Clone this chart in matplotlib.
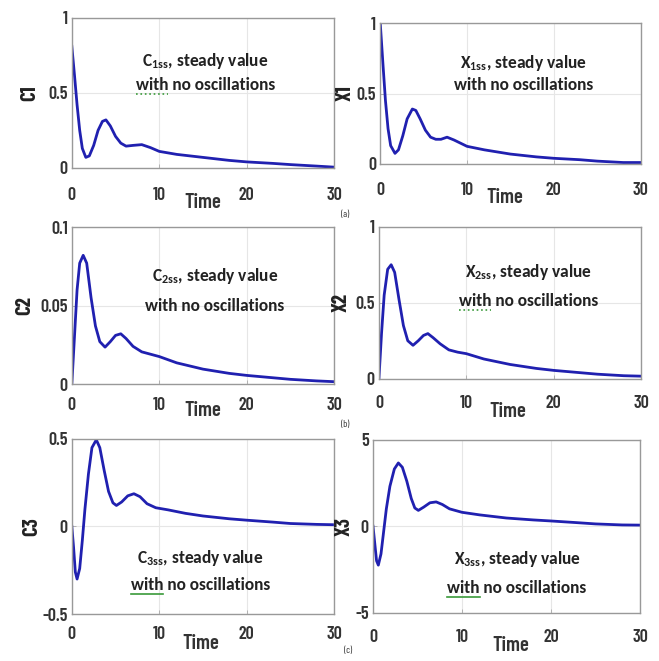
import matplotlib
matplotlib.use("Agg")
import matplotlib.pyplot as plt

NARROW = ['Barlow Condensed', 'Archivo Narrow', 'Liberation Sans', 'DejaVu Sans']
NOTE = ['Carlito', 'Lato', 'DejaVu Sans']
plt.rcParams['font.family'] = NARROW
plt.rcParams['mathtext.fontset'] = 'custom'
plt.rcParams['mathtext.rm'] = 'Carlito:bold'
plt.rcParams['mathtext.bf'] = 'Carlito:bold'

# values
t_c1 = [0, 0.3, 0.6, 0.9, 1.2, 1.6, 2.0, 2.5, 3.0, 3.5, 3.9, 4.4, 5.0, 5.6, 6.2,
        7.0, 8.0, 9.0, 10, 12, 15, 18, 20, 23, 25, 28, 30]
c1 = [0.81, 0.62, 0.42, 0.25, 0.13, 0.07, 0.08, 0.15, 0.25, 0.31, 0.32, 0.28, 0.21,
      0.165, 0.145, 0.15, 0.155, 0.135, 0.11, 0.09, 0.07, 0.05, 0.04, 0.03, 0.022,
      0.012, 0.005]

t_x1 = [0, 0.3, 0.6, 0.9, 1.2, 1.7, 2.1, 2.6, 3.1, 3.7, 4.1, 4.6, 5.2, 5.8, 6.4,
        7.0, 7.7, 8.5, 10, 12, 15, 18, 20, 23, 25, 28, 30]
x1 = [1.0, 0.72, 0.45, 0.25, 0.13, 0.075, 0.10, 0.2, 0.32, 0.39, 0.38, 0.32, 0.24,
      0.19, 0.175, 0.175, 0.19, 0.17, 0.125, 0.10, 0.07, 0.05, 0.04, 0.03, 0.02,
      0.01, 0.01]

t_c2 = [0, 0.3, 0.6, 0.9, 1.3, 1.7, 2.2, 2.7, 3.2, 3.8, 4.4, 5.0, 5.6, 6.2, 7.0,
        8.0, 9.0, 10, 12, 15, 18, 20, 23, 25, 28, 30]
c2 = [0.0, 0.03, 0.06, 0.077, 0.082, 0.077, 0.055, 0.037, 0.027, 0.0235, 0.027,
      0.031, 0.032, 0.029, 0.024, 0.0205, 0.019, 0.0175, 0.0135, 0.0095, 0.0068,
      0.0055, 0.004, 0.003, 0.002, 0.0015]

t_x2 = [0, 0.3, 0.6, 1.0, 1.4, 1.8, 2.3, 2.8, 3.3, 3.9, 4.5, 5.1, 5.6, 6.2, 7.0,
        8.0, 9.0, 10, 12, 15, 18, 20, 23, 25, 28, 30]
x2 = [0.0, 0.3, 0.55, 0.72, 0.75, 0.70, 0.52, 0.35, 0.25, 0.22, 0.25, 0.285, 0.297,
      0.27, 0.23, 0.19, 0.175, 0.165, 0.13, 0.094, 0.068, 0.055, 0.04, 0.03, 0.02,
      0.017]

t_c3 = [0, 0.2, 0.4, 0.6, 0.9, 1.2, 1.5, 1.9, 2.3, 2.8, 3.2, 3.7, 4.2, 4.7, 5.1,
        5.7, 6.4, 7.1, 7.8, 8.6, 9.6, 11, 13, 15, 18, 20, 23, 25, 28, 30]
c3 = [0.0, -0.12, -0.26, -0.30, -0.24, -0.08, 0.10, 0.30, 0.45, 0.495, 0.45, 0.32,
      0.20, 0.135, 0.12, 0.14, 0.175, 0.187, 0.17, 0.13, 0.107, 0.095, 0.075, 0.06,
      0.044, 0.036, 0.025, 0.017, 0.012, 0.01]

t_x3 = [0, 0.2, 0.4, 0.6, 0.9, 1.2, 1.5, 1.9, 2.4, 2.85, 3.3, 3.8, 4.3, 4.7, 5.1,
        5.7, 6.4, 7.1, 7.8, 8.6, 10, 12, 15, 18, 20, 23, 25, 28, 30]
x3 = [0.0, -1.0, -2.0, -2.25, -1.6, -0.3, 1.0, 2.3, 3.3, 3.65, 3.4, 2.6, 1.6, 1.05,
      0.91, 1.1, 1.35, 1.4, 1.25, 1.0, 0.8, 0.65, 0.47, 0.36, 0.3, 0.2, 0.13, 0.07,
      0.06]

x_ticks = [0, 10, 20, 30]
y_ticks = {
    'C1': ([0, 0.5, 1], ['0', '0.5', '1']),
    'X1': ([0, 0.5, 1], ['0', '0.5', '1']),
    'C2': ([0, 0.05, 0.1], ['0', '0.05', '0.1']),
    'X2': ([0, 0.5, 1], ['0', '0.5', '1']),
    'C3': ([-0.5, 0, 0.5], ['-0.5', '0', '0.5']),
    'X3': ([-5, 0, 5], ['-5', '0', '5']),
}
note_top = {
    'C1': r'$\mathbf{C_{1ss}}$, steady value',
    'X1': r'$\mathbf{X_{1ss}}$, steady value',
    'C2': r'$\mathbf{C_{2ss}}$, steady value',
    'X2': r'$\mathbf{X_{2ss}}$, steady value',
    'C3': r'$\mathbf{C_{3ss}}$, steady value',
    'X3': r'$\mathbf{X_{3ss}}$, steady value',
}
note_bottom = 'with no oscillations'

# name, t, y, axes rect, tick pad, time label pos, ylabel x, note (x, y1, y2), underline style
panels = [
    ('C1', t_c1, c1, [0.109, 0.746, 0.398, 0.227], 14, (0.50, -0.233), -0.16,
     (0.51, 0.71, 0.55), ':'),
    ('X1', t_x1, x1, [0.577, 0.752, 0.395, 0.213], 13, (0.48, -0.24), -0.135,
     (0.55, 0.72, 0.56), None),
    ('C2', t_c2, c2, [0.109, 0.419, 0.398, 0.2375], 9, (0.50, -0.166), -0.18,
     (0.545, 0.69, 0.50), None),
    ('X2', t_x2, x2, [0.575, 0.427, 0.398, 0.230], 11.5, (0.49, -0.217), -0.145,
     (0.57, 0.70, 0.51), ':'),
    ('C3', t_c3, c3, [0.109, 0.071, 0.398, 0.265], 8.6, (0.49, -0.166), -0.153,
     (0.49, 0.32, 0.166), '-'),
    ('X3', t_x3, x3, [0.566, 0.073, 0.405, 0.262], 12, (0.515, -0.19), -0.108,
     (0.54, 0.31, 0.145), '-'),
]

fig = plt.figure(figsize=(6.59, 6.61), dpi=100)
renderer = fig.canvas.get_renderer()
NOTE_SIZE = 12.5
note_kw = dict(ha='center', va='center', fontsize=NOTE_SIZE, fontweight='bold',
               color='#222222', family=NOTE)

for name, t, y, rect, pad, tpos, ylx, npos, ul in panels:
    ax = fig.add_axes(rect)
    ax.plot(t, y, color='#2020b0', lw=2)
    ax.set_xlim(0, 30)
    ticks, labels = y_ticks[name]
    ax.set_ylim(ticks[0], ticks[-1])
    ax.set_xticks(x_ticks)
    ax.set_xticklabels([str(v) for v in x_ticks])
    ax.set_yticks(ticks)
    ax.set_yticklabels(labels)
    ax.grid(True, color='#e6e6e6', lw=0.8)
    ax.tick_params(direction='in', length=3, width=0.6, colors='#aaaaaa',
                   labelcolor='#333333', labelsize=13)
    ax.tick_params(axis='x', pad=pad)
    ax.tick_params(axis='y', pad=3)
    for lab in ax.get_xticklabels() + ax.get_yticklabels():
        lab.set_fontweight('semibold')
    for s in ax.spines.values():
        s.set_color('#999999')
        s.set_linewidth(1)
    ax.text(tpos[0], tpos[1], 'Time', transform=ax.transAxes, ha='center',
            va='center', fontsize=15, fontweight='semibold', color='#333333')
    ax.text(ylx, 0.5, name, transform=ax.transAxes, ha='center', va='center',
            rotation=90, fontsize=15, fontweight='bold', color='#222222')
    ax.text(npos[0], npos[1], note_top[name], transform=ax.transAxes, **note_kw)
    t2 = ax.text(npos[0], npos[2], note_bottom, transform=ax.transAxes, **note_kw)
    if ul is not None:
        # green proofing mark under the word "with"
        probe = fig.text(0, 0, 'with', fontsize=NOTE_SIZE, fontweight='bold', family=NOTE)
        w = probe.get_window_extent(renderer).width
        probe.remove()
        bb = t2.get_window_extent(renderer)
        x0, x1 = bb.x0, bb.x0 + w
        yy = bb.y0 - 1
        inv = fig.transFigure.inverted()
        (fx0, fy), (fx1, _) = inv.transform([(x0, yy), (x1, yy)])
        fig.add_artist(plt.Line2D([fx0, fx1], [fy, fy], transform=fig.transFigure,
                                  color='#3a9a3a', lw=1.2, ls=ul))

fig.text(345 / 659, 1 - 214 / 661, '(a)', fontsize=7, ha='center', va='center', color='#333333')
fig.text(345 / 659, 1 - 425 / 661, '(b)', fontsize=7, ha='center', va='center', color='#333333')
fig.text(348 / 659, 1 - 650 / 661, '(c)', fontsize=7, ha='center', va='center', color='#333333')

fig.savefig('out.png', dpi=100)
